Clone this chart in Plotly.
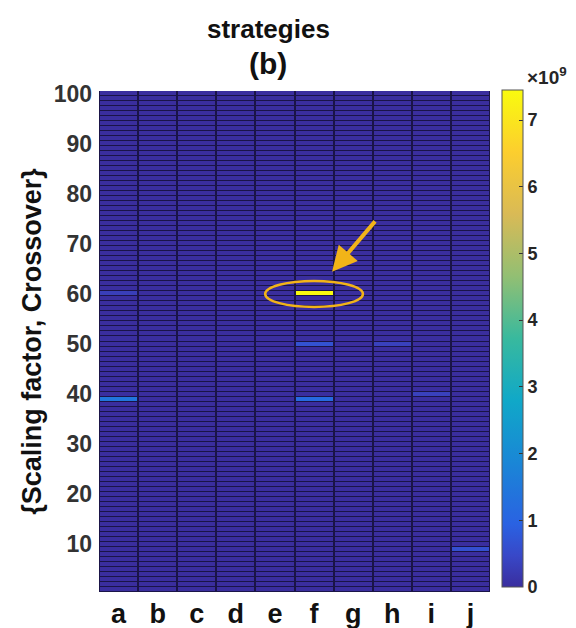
import numpy as np
import plotly.graph_objects as go

# ---- data ----
strategies = ["a", "b", "c", "d", "e", "f", "g", "h", "i", "j"]
rows = list(range(1, 101))
# non-zero cells: (strategy, row, value)
hot_strategy = ["f", "a", "f", "f", "j", "h", "i", "a"]
hot_row = [60, 39, 39, 50, 9, 50, 40, 60]
hot_value = [7.45e9, 1.45e9, 1.15e9, 0.65e9, 0.6e9, 0.35e9, 0.35e9, 0.3e9]
cbar_ticks = [0, 1, 2, 3, 4, 5, 6, 7]

z = np.zeros((len(rows), len(strategies)))
for s, r, v in zip(hot_strategy, hot_row, hot_value):
    z[rows.index(r), strategies.index(s)] = v

parula = [
    [0.0, "#3a2e9e"], [0.0635, "#3848c8"], [0.127, "#2a62e2"], [0.25, "#1a86d6"],
    [0.375, "#10a8c8"], [0.5, "#38b99e"], [0.625, "#92bf73"],
    [0.75, "#d9ba56"], [0.875, "#fcce2e"], [1.0, "#f9fb0e"],
]

xi = list(range(1, len(strategies) + 1))
fig = go.Figure()
fig.add_trace(go.Heatmap(
    z=z, x=xi, y=rows, colorscale=parula, zmin=0, zmax=max(hot_value),
    xgap=2, ygap=1,
    colorbar=dict(
        tickvals=[t * 1e9 for t in cbar_ticks], ticktext=[str(t) for t in cbar_ticks],
        thickness=21, len=0.992, lenmode="fraction", y=0.506, yanchor="middle",
        x=1.031, xanchor="left", xpad=0, ypad=0,
        outlinewidth=1, outlinecolor="#555555",
        ticks="inside", ticklen=4, tickcolor="#333333",
        tickfont=dict(family="Liberation Sans", size=18, color="#262626", weight="bold"),
    ),
    showscale=True, hoverinfo="skip",
))

gold = "#f2b418"
# ellipse highlighting the maximum
fx = strategies.index(hot_strategy[0]) + 1
fy = hot_row[0]
fig.add_shape(type="circle", xref="x", yref="y",
              x0=fx - 1.25, x1=fx + 1.25, y0=fy - 2.6, y1=fy + 2.6,
              line=dict(color=gold, width=2.5))
fig.add_annotation(x=fx + 0.46, y=fy + 4.4, xref="x", yref="y", ax=46, ay=-54,
                   showarrow=True, arrowhead=2, arrowsize=1.25, arrowwidth=4,
                   arrowcolor=gold, text=" ")

tx = (268 - 99) / 391
fig.add_annotation(text="strategies", xref="paper", yref="paper",
                   x=tx, y=(592 - 29) / 501, xanchor="center", yanchor="middle", showarrow=False,
                   font=dict(family="Liberation Sans", size=26, color="#111111", weight="bold"))
fig.add_annotation(text="(b)", xref="paper", yref="paper",
                   x=tx, y=(592 - 63) / 501, xanchor="center", yanchor="middle", showarrow=False,
                   font=dict(family="Liberation Sans", size=30, color="#111111", weight="bold"))
fig.add_annotation(text="×10<sup>9</sup>", xref="paper", yref="paper",
                   x=(547 - 99) / 391, y=(592 - 76) / 501, xanchor="center", yanchor="middle",
                   showarrow=False,
                   font=dict(family="Liberation Sans", size=19, color="#262626", weight="bold"))

fig.update_layout(
    width=576, height=628,
    margin=dict(l=99, r=86, t=91, b=36, autoexpand=False),
    paper_bgcolor="white", plot_bgcolor="#1a1448",
    showlegend=False,
    xaxis=dict(tickvals=xi, ticktext=strategies, range=[0.5, 10.5], automargin=False,
               showgrid=False, zeroline=False, ticks="", ticklabelstandoff=3,
               tickfont=dict(family="Liberation Sans", size=27, color="#111111", weight="bold")),
    yaxis=dict(tickvals=list(range(10, 101, 10)), range=[0.5, 100.5], automargin=False,
               showgrid=False, zeroline=False, ticks="", ticklabelstandoff=6,
               tickfont=dict(family="Liberation Sans", size=23, color="#333333", weight="bold"),
               title=dict(text="{Scaling factor, Crossover}", standoff=4,
                          font=dict(family="Liberation Sans", size=27, color="#111111", weight="bold"))),
)

fig.write_html("out.html")
